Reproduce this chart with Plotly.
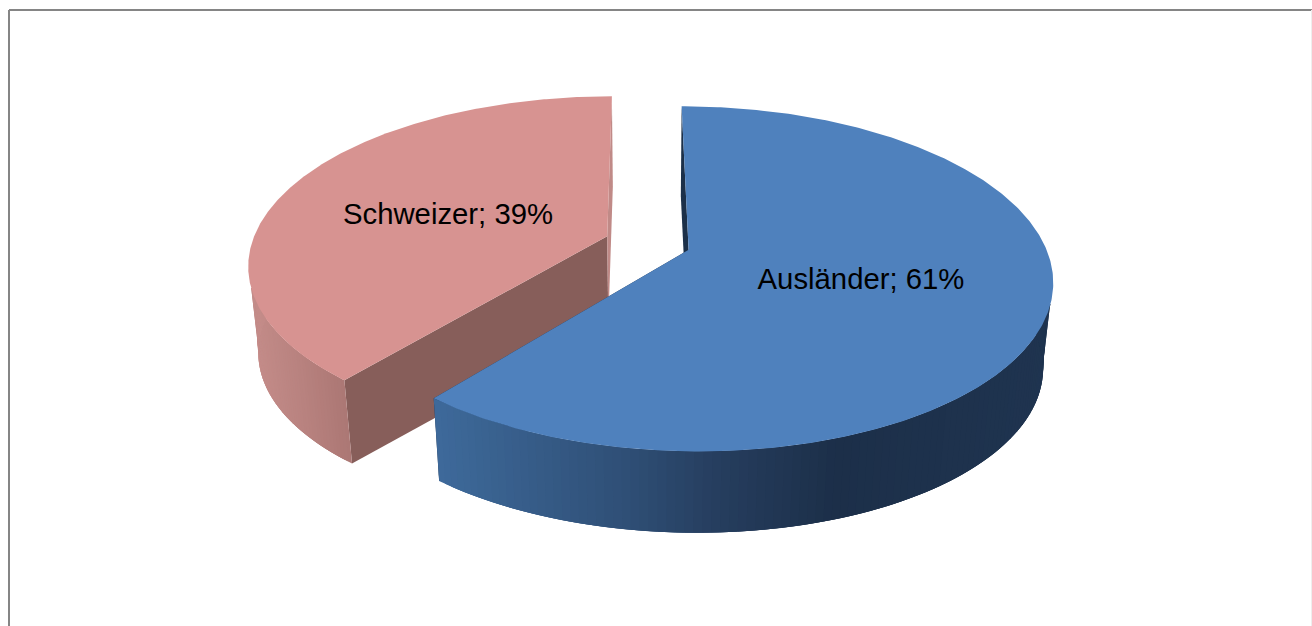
import numpy as np
import plotly.graph_objects as go

# --- data ---
categories = ["Ausländer", "Schweizer"]
values = [61, 39]

# --- styles ---
top_colors = {"Ausländer": "#4f81bd", "Schweizer": "#d79391"}
inner_colors = {"Ausländer": "#1c3049", "Schweizer": "#875e5a"}
back_cut_colors = {"Ausländer": "#1c3049", "Schweizer": "#c08a87"}
wall_stops = {
    "Ausländer": [(435, (62, 106, 155)), (630, (47, 79, 118)), (720, (38, 62, 95)),
                  (840, (28, 47, 73)), (1060, (31, 52, 80))],
    "Schweizer": [(249, (196, 140, 137)), (300, (184, 130, 127)), (352, (170, 118, 115))],
}
label_xy = {"Ausländer": (861, 282), "Schweizer": (448, 217)}
FONT = "Liberation Sans, Arial, sans-serif"

# --- projection of the tilted pie (perspective) ---
VX, Y0 = 640.0, 243.0
K, k, p = 355.5, 165.4, 0.167
EXPLODE = 0.1215
X0 = 0.0215
SHRINK, SHRINK_X, DEPTH = 0.975, 650.0, 86.5
WALL_TUCK = 0.985  # on the far side the wall starts under the top face


def project(X, Y):
    w = 1 + p * Y
    return VX + K * X / w, Y0 - k * Y / w


def lower(sx, sy):
    return SHRINK_X + (sx - SHRINK_X) * SHRINK, Y0 + (sy - Y0) * SHRINK + DEPTH


def wall_color(cat, x):
    stops = wall_stops[cat]
    xs = [s[0] for s in stops]
    rgb = [np.interp(x, xs, [s[1][i] for s in stops]) for i in range(3)]
    return "rgb(%d,%d,%d)" % tuple(int(round(c)) for c in rgb)


fig = go.Figure()


def poly(xs, ys, color):
    fig.add_trace(go.Scatter(
        x=list(xs) + [xs[0]], y=list(ys) + [ys[0]], mode="lines", fill="toself",
        fillcolor=color, line=dict(color=color, width=0),
        hoverinfo="skip", showlegend=False))


total = sum(values)
spans = []
start = 0.0
for cat, val in zip(categories, values):
    end = start + 2 * np.pi * val / total
    spans.append((cat, start, end))
    start = end

# draw the back slice (Schweizer) first so that the front slice overlaps it
for cat, a0, a1 in reversed(spans):
    mid = (a0 + a1) / 2
    cx = X0 + EXPLODE * np.sin(mid)
    cy = EXPLODE * np.cos(mid)
    t = np.linspace(a0, a1, 361)
    rimx, rimy = project(cx + np.sin(t), cy + np.cos(t))
    apx, apy = project(cx, cy)
    lox, loy = lower(rimx, rimy)
    alx, aly = lower(apx, apy)
    tuck = np.where(np.cos(t) < -0.3, 1.0, WALL_TUCK)
    upx = apx + (rimx - apx) * tuck
    upy = apy + (rimy - apy) * tuck

    # cut faces
    first_is_back = cat == "Ausländer"
    poly([rimx[0], apx, alx, lox[0]], [rimy[0], apy, aly, loy[0]],
         back_cut_colors[cat] if first_is_back else inner_colors[cat])
    poly([rimx[-1], apx, alx, lox[-1]], [rimy[-1], apy, aly, loy[-1]],
         back_cut_colors[cat] if not first_is_back else inner_colors[cat])

    # outer wall: each strip overlaps the next one, so that no seam shows
    idx = [i for i in range(0, len(t) - 1, 2) if np.cos(t[i]) < 0.45]
    order = idx if cat == "Schweizer" else idx[::-1]
    for i in order:
        lo, hi = max(i - 4, 0), min(i + 6, len(t) - 1)
        if cat == "Schweizer":
            j0, j1 = i, hi
        else:
            j0, j1 = lo, min(i + 2, len(t) - 1)
        xs = list(upx[j0:j1 + 1]) + list(lox[j0:j1 + 1][::-1])
        ys = list(upy[j0:j1 + 1]) + list(loy[j0:j1 + 1][::-1])
        poly(xs, ys, wall_color(cat, rimx[i]))

    # top face
    poly([apx] + list(rimx), [apy] + list(rimy), top_colors[cat])

# data labels
fig.add_trace(go.Scatter(
    x=[label_xy[c][0] for c in categories],
    y=[label_xy[c][1] for c in categories],
    mode="text",
    text=[f"{c}; {v}%" for c, v in zip(categories, values)],
    textposition="middle center",
    textfont=dict(family=FONT, size=29.3, color="#000000"),
    hoverinfo="skip", showlegend=False))

fig.update_layout(
    width=1312, height=626, autosize=False,
    margin=dict(l=0, r=0, t=0, b=0),
    paper_bgcolor="#ffffff", plot_bgcolor="#ffffff",
    xaxis=dict(range=[0, 1312], visible=False, fixedrange=True),
    yaxis=dict(range=[626, 0], visible=False, fixedrange=True),
    shapes=[
        dict(type="line", xref="x", yref="y", x0=9, x1=1312, y0=10, y1=10,
             line=dict(color="#858585", width=2)),
        dict(type="line", xref="x", yref="y", x0=9, x1=9, y0=10, y1=626,
             line=dict(color="#858585", width=2)),
        dict(type="line", xref="x", yref="y", x0=1311.5, x1=1311.5, y0=10, y1=626,
             line=dict(color="#eeeeee", width=1)),
    ],
)

fig.write_html(
    "out.html",
    config={"displayModeBar": False},
    post_script="document.body.style.margin='0';document.body.style.overflow='hidden';",
)
